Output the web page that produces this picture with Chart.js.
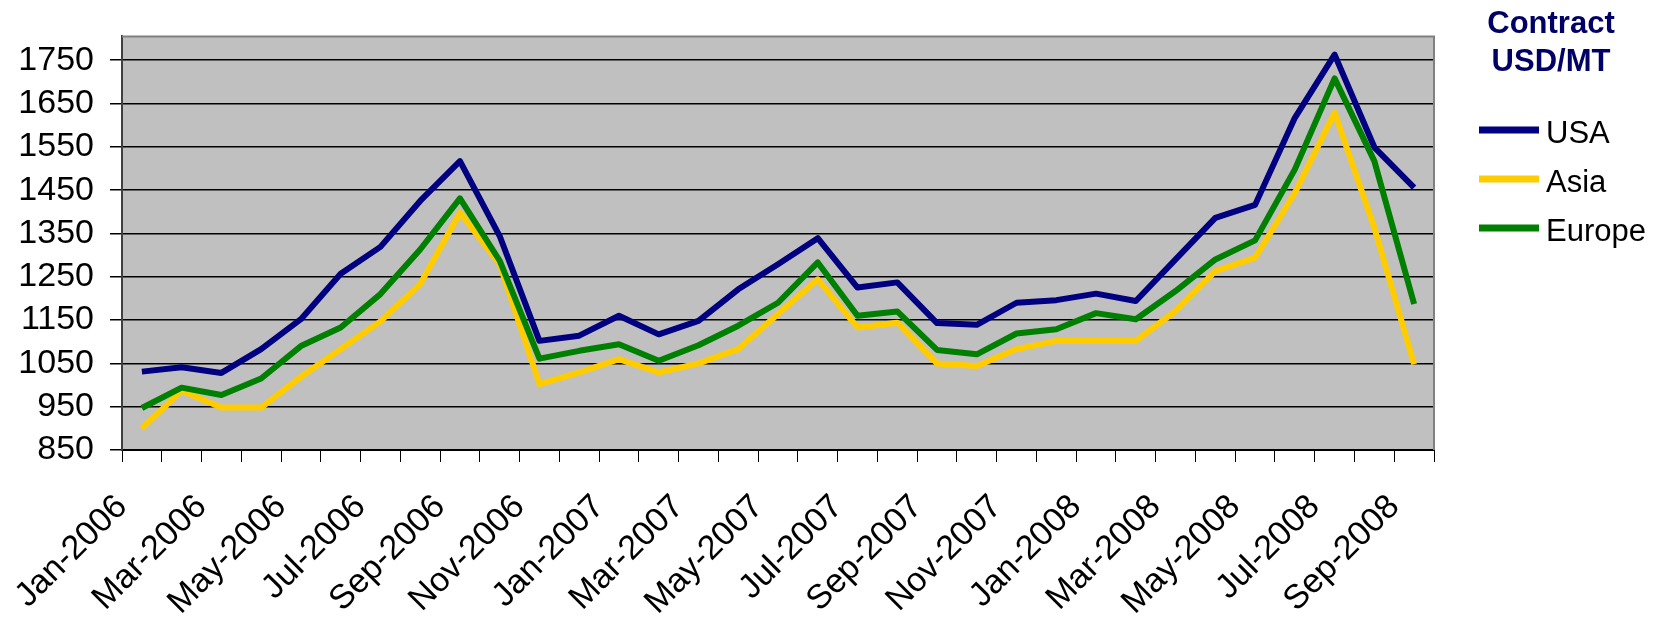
<!DOCTYPE html>
<html lang="en">
<head>
<meta charset="UTF-8">
<title>Contract USD/MT</title>
<script src="https://cdn.jsdelivr.net/npm/chart.js@4.4.0/dist/chart.umd.min.js"></script>
<style>
  body { margin: 0; background: #fff; }
  #wrap { width: 1659px; height: 618px; }
</style>
</head>
<body>
<div id="wrap"><canvas id="contractChart" width="1659" height="618"></canvas></div>
<script>
// monthly contract prices, USD per metric ton
const months = [
  'Jan-2006', 'Feb-2006', 'Mar-2006', 'Apr-2006', 'May-2006', 'Jun-2006',
  'Jul-2006', 'Aug-2006', 'Sep-2006', 'Oct-2006', 'Nov-2006', 'Dec-2006',
  'Jan-2007', 'Feb-2007', 'Mar-2007', 'Apr-2007', 'May-2007', 'Jun-2007',
  'Jul-2007', 'Aug-2007', 'Sep-2007', 'Oct-2007', 'Nov-2007', 'Dec-2007',
  'Jan-2008', 'Feb-2008', 'Mar-2008', 'Apr-2008', 'May-2008', 'Jun-2008',
  'Jul-2008', 'Aug-2008', 'Sep-2008'
];
const usa = [1031, 1041, 1028, 1083, 1152, 1257, 1319, 1425, 1517, 1344, 1102, 1114,
             1160, 1117, 1148, 1221, 1279, 1339, 1225, 1237, 1143, 1139, 1190, 1196,
             1211, 1194, 1290, 1386, 1416, 1617, 1763, 1549, 1456];
const asia = [900, 987, 948, 948, 1019, 1083, 1147, 1233, 1398, 1279, 1002, 1029,
              1060, 1029, 1050, 1083, 1164, 1244, 1133, 1144, 1050, 1044, 1083, 1102,
              1102, 1102, 1171, 1263, 1294, 1444, 1629, 1363, 1048];
const europe = [947, 994, 977, 1015, 1090, 1133, 1210, 1313, 1431, 1287, 1061, 1079,
                1094, 1056, 1092, 1137, 1190, 1283, 1160, 1170, 1081, 1071, 1119, 1129,
                1166, 1152, 1217, 1290, 1334, 1498, 1708, 1517, 1187];
const yTicks = [850, 950, 1050, 1150, 1250, 1350, 1450, 1550, 1650, 1750];

const FONT = "'Liberation Sans', Arial, sans-serif";

// grey plot area with a thin grey frame on top and right
const plotFrame = {
  id: 'plotFrame',
  beforeDraw(chart) {
    const { ctx, chartArea: a } = chart;
    ctx.save();
    ctx.fillStyle = '#c0c0c0';
    ctx.fillRect(a.left, a.top, a.right - a.left, a.bottom - a.top);
    ctx.restore();
  },
  afterDraw(chart) {
    const { ctx, chartArea: a } = chart;
    ctx.save();
    ctx.strokeStyle = '#808080';
    ctx.lineWidth = 2;
    ctx.beginPath();
    ctx.moveTo(a.left, a.top);
    ctx.lineTo(a.right, a.top);
    ctx.lineTo(a.right, a.bottom);
    ctx.stroke();
    ctx.restore();
  }
};

// unit title and series keys on the right side
const sideLegend = {
  id: 'sideLegend',
  afterDraw(chart) {
    const ctx = chart.ctx;
    const cx = 1551;
    ctx.save();
    ctx.fillStyle = '#000066';
    ctx.font = `bold 31px ${FONT}`;
    ctx.textAlign = 'center';
    ctx.textBaseline = 'alphabetic';
    ctx.fillText('Contract', cx, 33);
    ctx.fillText('USD/MT', cx, 71);

    ctx.textAlign = 'left';
    ctx.font = `31px ${FONT}`;
    chart.data.datasets.forEach((ds, i) => {
      const y = 130 + i * 49;
      ctx.strokeStyle = ds.borderColor;
      ctx.lineWidth = 7;
      ctx.beginPath();
      ctx.moveTo(1479, y);
      ctx.lineTo(1539, y);
      ctx.stroke();
      ctx.fillStyle = '#000';
      ctx.fillText(ds.label, 1546, y + 13);
    });
    ctx.restore();
  }
};

new Chart(document.getElementById('contractChart'), {
  type: 'line',
  data: {
    labels: months,
    datasets: [
      { label: 'USA', data: usa, borderColor: '#000080', order: 3 },
      { label: 'Asia', data: asia, borderColor: '#ffcc00', order: 2 },
      { label: 'Europe', data: europe, borderColor: '#008000', order: 1 }
    ]
  },
  options: {
    responsive: false,
    animation: false,
    devicePixelRatio: 1,
    layout: { padding: { top: 35, right: 225, left: 0, bottom: 0 } },
    elements: {
      line: { borderWidth: 6, tension: 0, borderJoinStyle: 'round', fill: false },
      point: { radius: 0 }
    },
    plugins: {
      legend: { display: false },
      tooltip: { enabled: false }
    },
    scales: {
      x: {
        offset: true,
        grid: { offset: true, drawOnChartArea: false, tickLength: 12, tickColor: '#000', tickWidth: 1 },
        border: { color: '#000', width: 2 },
        ticks: {
          autoSkip: false,
          minRotation: 45,
          maxRotation: 45,
          padding: 25,
          labelOffset: -20,
          color: '#000',
          font: { family: FONT, size: 34 },
          callback: (v, i) => (i % 2 === 0 ? months[i] : '')
        },
        afterFit(s) { s.height = 168; }
      },
      y: {
        min: 850,
        max: 1805,
        afterBuildTicks(s) { s.ticks = yTicks.map(v => ({ value: v })); },
        grid: { color: '#000', lineWidth: 1.5, tickLength: 12, tickColor: '#000' },
        border: { color: '#404040', width: 2 },
        ticks: {
          padding: 16,
          color: '#000',
          font: { family: FONT, size: 34 },
          callback: v => String(v)
        },
        afterFit(s) { s.width = 122; }
      }
    }
  },
  plugins: [plotFrame, sideLegend]
});
</script>
</body>
</html>
